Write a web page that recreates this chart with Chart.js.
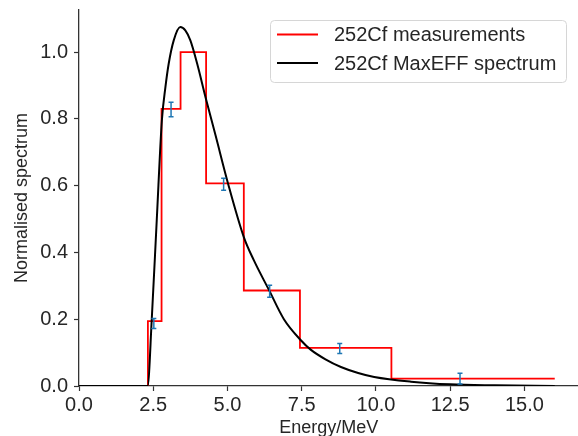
<!DOCTYPE html>
<html>
<head>
<meta charset="utf-8">
<script src="https://cdn.jsdelivr.net/npm/chart.js@4/dist/chart.umd.min.js"></script>
<style>
  body { margin: 0; background: #fff; }
  #wrap { width: 578px; height: 436px; overflow: hidden; }
</style>
</head>
<body>
<div id="wrap"><canvas id="spectrum" width="584" height="436"></canvas></div>
<script>
// measured histogram (bin edges in MeV, normalised height per bin)
var binEdges = [2.32, 2.78, 3.42, 4.28, 5.55, 7.44, 10.52, 16.02];
var binHeights = [0.194, 0.830, 1.000, 0.607, 0.286, 0.114, 0.022];

// error bars
var errX = [2.52, 3.10, 4.87, 6.42, 8.78, 12.83];
var errY = [0.187, 0.828, 0.604, 0.284, 0.112, 0.022];
var errSize = [0.015, 0.022, 0.018, 0.018, 0.015, 0.016];

// MaxEFF curve
var curveE = [0, 2.31, 2.45, 2.62, 2.79, 2.91, 3.02, 3.19, 3.41, 3.58, 3.75, 3.98, 4.26, 4.60, 5.02, 5.55, 5.89, 6.40, 6.90, 7.47, 7.80, 8.30, 8.82, 9.40, 9.94, 11.18, 12.5, 14.0, 16.02];
var curveV = [0, 0, 0.20, 0.50, 0.795, 0.895, 0.965, 1.035, 1.075, 1.065, 1.035, 0.965, 0.865, 0.75, 0.606, 0.446, 0.376, 0.287, 0.20, 0.137, 0.109, 0.08, 0.057, 0.039, 0.027, 0.013, 0.005, 0.002, 0.0];

var xTicks = [0, 2.5, 5, 7.5, 10, 12.5, 15];
var yTicks = [0, 0.2, 0.4, 0.6, 0.8, 1.0];

var measLabel = "252Cf measurements";
var curveLabel = "252Cf MaxEFF spectrum";

var FONT = "'Liberation Sans', Arial, sans-serif";
var TXT = "#262626";

// step points: value of point i holds from x_i to next edge
var stepPts = [{x: 0, y: 0}];
for (var i = 0; i < binHeights.length; i++) {
	stepPts.push({x: binEdges[i], y: binHeights[i]});
}
stepPts.push({x: binEdges[binEdges.length - 1], y: binHeights[binHeights.length - 1]});

var curvePts = [];
for (var j = 0; j < curveE.length; j++) {
	curvePts.push({x: curveE[j], y: curveV[j]});
}

// error bars as broken line segments, caps from the 'line' point style
var errPts = [];
for (var k = 0; k < errX.length; k++) {
	errPts.push({x: errX[k], y: errY[k] - errSize[k]});
	errPts.push({x: errX[k], y: errY[k] + errSize[k]});
	errPts.push({x: errX[k], y: null});
}

// legend with a rounded frame, like matplotlib
var frameLegend = {
	id: 'frameLegend',
	afterDraw: function(chart) {
		var ctx = chart.ctx;
		var items = chart.data.datasets.filter(function(d){ return d.legendPos !== undefined; });
		items.sort(function(a, b){ return a.legendPos - b.legendPos; });
		var bx = 270, by = 20, bw = 296, bh = 62, r = 4;
		ctx.save();
		ctx.fillStyle = 'rgba(255,255,255,0.8)';
		ctx.strokeStyle = '#d6d6d6';
		ctx.lineWidth = 1;
		ctx.beginPath();
		ctx.roundRect(bx + 0.5, by + 0.5, bw, bh, r);
		ctx.fill();
		ctx.stroke();
		ctx.font = '20px ' + FONT;
		ctx.textBaseline = 'middle';
		ctx.fillStyle = TXT;
		items.forEach(function(d, n){
			var y = 34.5 + n * 28.5;
			ctx.strokeStyle = d.borderColor;
			ctx.lineWidth = d.borderWidth;
			ctx.beginPath();
			ctx.moveTo(277, y);
			ctx.lineTo(318, y);
			ctx.stroke();
			ctx.fillText(d.label, 334, y + 1);
		});
		ctx.restore();
	}
};

var ctx = document.getElementById('spectrum');
var chart = new Chart(ctx, {
	type: 'line',
	data: {
		datasets: [
			{
				label: 'errors',
				data: errPts,
				borderColor: '#1f77b4',
				borderWidth: 1.5,
				pointStyle: 'line',
				pointRadius: 2.5,
				pointBorderWidth: 1.5,
				pointBorderColor: '#1f77b4',
				spanGaps: false,
				order: 0
			},
			{
				label: curveLabel,
				data: curvePts,
				borderColor: '#000000',
				borderWidth: 2,
				pointRadius: 0,
				cubicInterpolationMode: 'monotone',
				legendPos: 1,
				order: 1
			},
			{
				label: measLabel,
				data: stepPts,
				borderColor: '#ff0000',
				borderWidth: 1.8,
				pointRadius: 0,
				stepped: true,
				legendPos: 0,
				order: 2
			}
		]
	},
	options: {
		responsive: false,
		animation: false,
		layout: { padding: { left: 11, right: 0, top: 10, bottom: 0 } },
		plugins: {
			legend: { display: false },
			tooltip: { enabled: false }
		},
		scales: {
			x: {
				type: 'linear',
				min: 0,
				max: 16.82,
				afterBuildTicks: function(s){ s.ticks = xTicks.map(function(v){ return {value: v}; }); },
				afterFit: function(s){ s.height = 50; s.paddingLeft = 0; s.paddingRight = 0; },
				grid: { drawOnChartArea: false, tickLength: 5, tickColor: '#333', tickWidth: 1.2 },
				border: { color: '#333', width: 1.3 },
				ticks: {
					padding: 2,
					color: TXT,
					font: { family: FONT, size: 20 },
					callback: function(v){ return v.toFixed(1); }
				},
				title: {
					display: true,
					text: 'Energy/MeV',
					color: TXT,
					font: { family: FONT, size: 18, lineHeight: 0.9 },
					padding: { top: 0, bottom: 0 }
				}
			},
			y: {
				min: 0,
				max: 1.126,
				afterBuildTicks: function(s){ s.ticks = yTicks.map(function(v){ return {value: v}; }); },
				afterFit: function(s){ s.width = 68; s.paddingTop = 0; s.paddingBottom = 0; },
				grid: { drawOnChartArea: false, tickLength: 5, tickColor: '#333', tickWidth: 1.2 },
				border: { color: '#333', width: 1.3 },
				ticks: {
					padding: 6,
					color: TXT,
					font: { family: FONT, size: 20 },
					callback: function(v){ return v.toFixed(1); }
				},
				title: {
					display: true,
					text: 'Normalised spectrum',
					color: TXT,
					font: { family: FONT, size: 18 },
					padding: { top: 0, bottom: 0 }
				}
			}
		}
	},
	plugins: [frameLegend]
});
</script>
</body>
</html>
